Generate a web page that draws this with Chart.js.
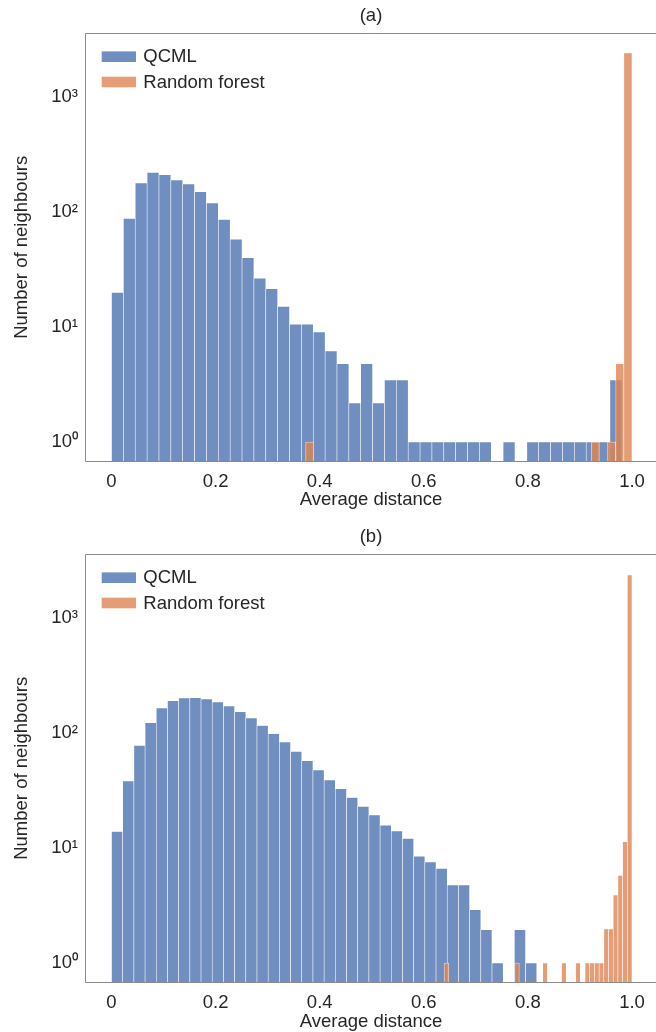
<!DOCTYPE html>
<html><head><meta charset="utf-8">
<script src="https://cdn.jsdelivr.net/npm/chart.js@4"></script>
<style>
html,body{margin:0;padding:0;background:#fff;overflow:hidden;}
#wa{position:absolute;left:0;top:0;width:656px;height:521px;}
#wb{position:absolute;left:0;top:521px;width:656px;height:511px;}
canvas{display:block;}
</style></head><body>
<div id="wa"><canvas id="ca" width="656" height="521"></canvas></div>
<div id="wb"><canvas id="cb" width="656" height="511"></canvas></div>
<script>
// ---------- data ----------
const seriesNames = ['QCML', 'Random forest'];
const panelTitles = ['(a)', '(b)'];
const xAxisTitle = 'Average distance';
const yAxisTitle = 'Number of neighbours';
const xTickValues = [0, 0.2, 0.4, 0.6, 0.8, 1.0];
const xTickLabels = ['0', '0.2', '0.4', '0.6', '0.8', '1.0'];
const yTickValues = [1, 10, 100, 1000];
const yTickLabels = ['10⁰', '10¹', '10²', '10³'];
const xRange = [-0.049, 1.0461];
const yRange = [0.677, 3603];

// panel (a) histograms: bin start, bin width, counts per bin
const qcmlA_bins = [0, 0.0228];
const qcmlA = [20, 88, 179, 221, 211, 190, 175, 150, 120, 86,
               58, 40, 26.5, 21.5, 15.1, 10.6, 10.6, 9.05, 6.2, 4.8,
               2.18, 4.8, 2.18, 3.46, 3.46, 1, 1, 1, 1, 1,
               1, 1, null, 1, null, 1, 1, 1, 1, 1,
               1, 1, 3.46];
const rfA_bins = [0.373, 0.015675];
const rfA = [1, null, null, null, null, null, null, null, null, null,
             null, null, null, null, null, null, null, null, null, null,
             null, null, null, null, null, null, null, null, null, null,
             null, null, null, null, null, 1, null, 1, 4.8, 2420];

// panel (b)
const qcmlB_bins = [0, 0.0215];
const qcmlB = [13.9, 38.3, 78, 123, 165, 191, 202, 203, 198, 186,
               172, 153, 135, 116, 98.6, 83.5, 69.2, 57.4, 47.7, 39.0,
               32.8, 27.5, 23.0, 19.4, 15.8, 14.1, 12.1, 8.5, 7.55, 6.65,
               4.77, 4.77, 2.91, 1.95, 1, null, 1.95, 1];
const rfB_bins = [0.639, 0.009025];
const rfB = [1, null, null, null, null, null, null, null, null, null,
             null, null, null, null, null, 1, null, null, null, null,
             null, 1, null, null, null, 1, null, null, 1, null,
             1, 1, 1, 1, 1.98, 1.98, 3.9, 5.78, 11.35, 2366];

// ---------- styling ----------
const FONT = '"Liberation Sans", Arial, Helvetica, sans-serif';
const FS = 18.5;
const TXT = '#262626';
const BLUE = 'rgba(76,114,176,0.8)';
const ORANGE = 'rgba(221,132,82,0.8)';
const EDGE = 'rgba(255,255,255,0.8)';
const FRAME = '#8a8a8a';

Chart.defaults.font.family = FONT;
Chart.defaults.font.size = FS;
Chart.defaults.color = TXT;

function binPoints(bins, counts) {
  return counts.map((c, i) => ({x: bins[0] + (i + 0.5) * bins[1], y: c}));
}

const framePlugin = {
  id: 'frame',
  afterDatasetsDraw(chart) {
    const {ctx, chartArea: a} = chart;
    ctx.save();
    ctx.strokeStyle = FRAME;
    ctx.lineWidth = 1;
    ctx.beginPath();
    const t = Math.floor(a.top) + 0.5, l = Math.floor(a.left) - 0.5, b = Math.floor(a.bottom) + 0.5;
    ctx.moveTo(a.right, t); ctx.lineTo(l, t); ctx.lineTo(l, b); ctx.lineTo(a.right, b);
    ctx.stroke();
    ctx.restore();
  }
};

const legendPlugin = {
  id: 'histLegend',
  afterDraw(chart) {
    const {ctx, chartArea: a} = chart;
    ctx.save();
    ctx.font = FS + 'px ' + FONT;
    ctx.textBaseline = 'middle';
    ctx.textAlign = 'left';
    chart.data.datasets.forEach((ds, i) => {
      const cy = a.top + 23.7 + i * 25.3;
      const sx = a.left + 15.7;
      ctx.fillStyle = ds.backgroundColor;
      ctx.fillRect(sx, cy - 5.3, 34.3, 10.6);
      ctx.fillStyle = TXT;
      ctx.fillText(ds.label, a.left + 57.3, cy + 0.5);
    });
    ctx.restore();
  }
};

function makePanel(id, title, qBins, q, rBins, r, axisH, padBottom, titlePadB) {
  const xCommon = {
    type: 'linear', min: xRange[0], max: xRange[1], offset: false,
    grid: {display: false, drawTicks: false}, border: {display: false},
    afterBuildTicks: s => { s.ticks = xTickValues.map(v => ({value: v})); }
  };
  return new Chart(document.getElementById(id), {
    type: 'bar',
    data: {
      datasets: [
        {label: seriesNames[0], data: binPoints(qBins, q), xAxisID: 'x', yAxisID: 'y',
         backgroundColor: BLUE, borderColor: EDGE, borderWidth: 0.6, order: 2,
         categoryPercentage: 1, barPercentage: 1, grouped: false},
        {label: seriesNames[1], data: binPoints(rBins, r), xAxisID: 'x2', yAxisID: 'y',
         backgroundColor: ORANGE, borderColor: EDGE, borderWidth: 0.6, order: 1,
         categoryPercentage: 1, barPercentage: 1, grouped: false}
      ]
    },
    options: {
      responsive: false, animation: false, devicePixelRatio: 1,
      layout: {padding: {left: 0, right: 0, top: 0, bottom: padBottom}},
      plugins: {
        legend: {display: false}, tooltip: {enabled: false},
        title: {display: true, text: title, fullSize: false, color: TXT,
                font: {size: FS, weight: 'normal', family: FONT},
                padding: {top: 5, bottom: 5.8}}
      },
      scales: {
        x: Object.assign({}, xCommon, {
          position: 'bottom',
          ticks: {padding: 9.4, autoSkip: false, maxRotation: 0, color: TXT,
                  callback: (v, i) => xTickLabels[i]},
          title: {display: true, text: xAxisTitle, color: TXT, padding: {top: 0, bottom: titlePadB}},
          afterFit: s => { s.height = axisH; }
        }),
        x2: Object.assign({}, xCommon, {display: false, position: 'bottom'}),
        y: {
          type: 'logarithmic', min: yRange[0], max: yRange[1], position: 'left',
          grid: {display: false, drawTicks: false}, border: {display: false},
          afterBuildTicks: s => { s.ticks = yTickValues.map(v => ({value: v})); },
          ticks: {padding: 8, autoSkip: false, color: TXT, callback: (v, i) => yTickLabels[i]},
          title: {display: true, text: yAxisTitle, color: TXT, padding: {top: 11, bottom: 0}},
          afterFit: s => { s.width = 86; }
        }
      }
    },
    plugins: [framePlugin, legendPlugin]
  });
}

makePanel('ca', panelTitles[0], qcmlA_bins, qcmlA, rfA_bins, rfA, 50, 9.5, 0);
makePanel('cb', panelTitles[1], qcmlB_bins, qcmlB, rfB_bins, rfB, 49.5, 0, -1.1);
</script>
</body></html>
